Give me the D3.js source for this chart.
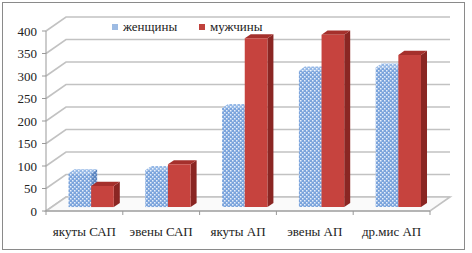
<!DOCTYPE html>
<html><head><meta charset="utf-8">
<script src="https://cdn.jsdelivr.net/npm/d3@7"></script>
<style>html,body{margin:0;padding:0;background:#fff;}svg{display:block;}</style>
</head><body>
<script>
const categories = ["якуты САП","эвены САП","якуты АП","эвены АП","др.мис АП"];
const seriesNames = ["женщины","мужчины"];
const women = [75, 82, 220, 303, 310];
const men = [47, 95, 375, 383, 338];
const yTicks = [0,50,100,150,200,250,300,350,400];

const W = 472, H = 253;
const FONT = "'Times New Roman', 'DejaVu Serif', serif";
const svg = d3.select("body").append("svg").attr("width", W).attr("height", H);
const defs = svg.append("defs");
function pat(id, bg, dot) {
  const p = defs.append("pattern").attr("id", id).attr("patternUnits","userSpaceOnUse")
    .attr("width",4).attr("height",4);
  p.append("rect").attr("width",4).attr("height",4).attr("fill",bg);
  p.append("rect").attr("x",0).attr("y",0).attr("width",1.5).attr("height",1.5).attr("fill",dot);
  p.append("rect").attr("x",2).attr("y",2).attr("width",1.5).attr("height",1.5).attr("fill",dot);
}
pat("bFront","#7ba4dc","#e6effa");
pat("bTop","#95b8e6","#eef4fc");
pat("bSide","#5a84bf","#b5cbea");

svg.append("rect").attr("x",2.5).attr("y",2.5).attr("width",462).attr("height",247)
  .attr("fill","#fff").attr("stroke","#8a8a8a").attr("stroke-width",1);

const x = d3.scaleBand().domain(categories).range([46,430]).padding(0);
const xs = d3.scaleBand().domain(seriesNames).range([0.22*x.bandwidth(), 0.81*x.bandwidth()]).padding(0);
const y = d3.scaleLinear().domain([0,400]).range([211,31]);
const DX = 20, DY = -14;
const P = (px, v, d) => [px + DX*d, y(v) + DY*d];
const grid = "#c2c2c2";

yTicks.forEach(t => {
  const a = P(46,t,0), b = P(46,t,1), c = P(430,t,1);
  svg.append("polyline").attr("points",[a,b,c].map(p=>p.join(",")).join(" "))
    .attr("fill","none").attr("stroke",grid).attr("stroke-width",1.6);
});
const floor = [P(46,0,0),P(430,0,0),P(430,0,1),P(46,0,1)];
svg.append("polygon").attr("points",floor.map(p=>p.join(",")).join(" "))
  .attr("fill","#fafafa").attr("stroke",grid).attr("stroke-width",1.6);
svg.append("line").attr("x1",46).attr("x2",46).attr("y1",y(400)).attr("y2",y(0)).attr("stroke","#999").attr("stroke-width",1);
svg.append("line").attr("x1",46).attr("x2",430).attr("y1",y(0)).attr("y2",y(0)).attr("stroke","#999").attr("stroke-width",1);
yTicks.forEach(t=>{
  svg.append("line").attr("x1",42).attr("x2",46).attr("y1",y(t)).attr("y2",y(t)).attr("stroke","#999");
  svg.append("text").attr("x",37).attr("y",y(t)+4.5).attr("text-anchor","end")
    .style("font-family",FONT).attr("font-size",13).attr("fill","#222").text(t);
});
categories.forEach((c,i)=>{
  const xx = x(c);
  svg.append("line").attr("x1",xx).attr("x2",xx).attr("y1",y(0)).attr("y2",y(0)+4).attr("stroke","#999");
  if(i===categories.length-1) svg.append("line").attr("x1",xx+x.bandwidth()).attr("x2",xx+x.bandwidth()).attr("y1",y(0)).attr("y2",y(0)+4).attr("stroke","#999");
  svg.append("text").attr("x",xx+x.bandwidth()/2).attr("y",236).attr("text-anchor","middle")
    .style("font-family",FONT).attr("font-size",13).attr("fill","#222").text(c);
});

const d0 = 0.28, d1 = 0.58;
const styles = {
  "женщины": {front:"url(#bFront)", top:"url(#bTop)", side:"url(#bSide)"},
  "мужчины": {front:"#c6433e", top:"#a5302c", side:"#8a2623"}
};
const poly = (pts, fill) => svg.append("polygon").attr("points", pts.map(p=>p.join(",")).join(" ")).attr("fill", fill);
categories.forEach((c,i)=>{
  [[seriesNames[0], women[i]],[seriesNames[1], men[i]]].forEach(([s,v])=>{
    const x0 = x(c)+xs(s), x1 = x0 + xs.bandwidth();
    const st = styles[s];
    poly([P(x1,0,d0),P(x1,0,d1),P(x1,v,d1),P(x1,v,d0)], st.side);
    poly([P(x0,v,d0),P(x1,v,d0),P(x1,v,d1),P(x0,v,d1)], st.top);
    poly([P(x0,0,d0),P(x1,0,d0),P(x1,v,d0),P(x0,v,d0)], st.front);
  });
});

const leg = [{n:seriesNames[0], x:115, fill:"#9dbbe3"},{n:seriesNames[1], x:202, fill:"#c0413c"}];
leg.forEach(l=>{
  svg.append("rect").attr("x",l.x-3).attr("y",24).attr("width",6).attr("height",6).attr("fill",l.fill);
  svg.append("text").attr("x",l.x+8).attr("y",31).style("font-family",FONT)
    .attr("font-size",13).attr("fill","#222").text(l.n);
});
</script>
</body></html>
